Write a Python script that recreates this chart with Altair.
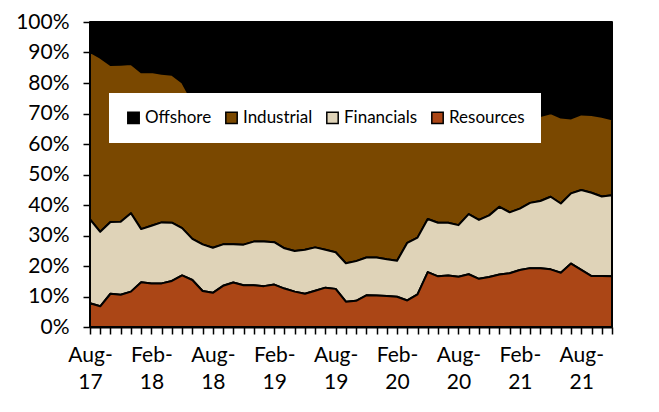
import json
import altair as alt
import pandas as pd

# Monthly categories, Aug-17 .. Nov-21
months = pd.date_range("2017-08-01", periods=52, freq="MS").strftime("%b-%y").tolist()

# Labelled months on the x axis
label_months = ["Aug-17", "Feb-18", "Aug-18", "Feb-19", "Aug-19",
                "Feb-20", "Aug-20", "Feb-21", "Aug-21"]

# Shares (%) per series
resources = [7.8, 6.8, 10.9, 10.6, 11.6, 14.7, 14.3, 14.3, 15.1, 16.9,
             15.4, 11.8, 11.2, 13.5, 14.6, 13.7, 13.7, 13.4, 13.9, 12.6,
             11.6, 10.9, 11.9, 12.9, 12.5, 8.3, 8.6, 10.4, 10.3, 10.2,
             9.9, 8.7, 10.7, 18.0, 16.6, 16.9, 16.5, 17.3, 15.8, 16.4,
             17.2, 17.6, 18.7, 19.3, 19.3, 18.9, 17.8, 20.8, 18.7, 16.7,
             16.7, 16.6]
financials = [27.5, 24.4, 23.5, 23.9, 25.7, 17.4, 18.9, 20.0, 19.1, 15.5,
              13.5, 15.3, 14.8, 13.6, 12.5, 13.3, 14.3, 14.6, 13.9, 13.2,
              13.3, 14.4, 14.2, 12.4, 12.0, 12.6, 13.0, 12.4, 12.5, 12.0,
              11.8, 18.9, 18.6, 17.4, 17.6, 17.3, 16.9, 19.7, 19.3, 20.2,
              22.2, 20.0, 20.1, 21.4, 22.0, 23.8, 22.7, 23.0, 26.2, 27.3,
              26.1, 26.6]
industrial = [54.9, 57.1, 51.5, 51.5, 48.9, 51.4, 50.4, 48.7, 48.5, 47.8,
              45.1, 45.4, 45.5, 43.9, 43.4, 43.0, 41.5, 41.0, 40.7, 42.2,
              42.6, 41.7, 40.4, 40.7, 41.0, 44.1, 42.9, 41.7, 41.2, 41.8,
              42.3, 36.9, 35.7, 30.1, 31.8, 32.3, 33.6, 30.0, 32.4, 30.9,
              28.6, 30.4, 29.7, 28.3, 27.9, 27.4, 28.2, 24.6, 24.8, 25.5,
              26.1, 24.9]
offshore = [9.8, 11.7, 14.1, 14.0, 13.8, 16.5, 16.4, 17.0, 17.3, 19.8,
            26.0, 27.5, 28.5, 29.0, 29.5, 30.0, 30.5, 31.0, 31.5, 32.0,
            32.5, 33.0, 33.5, 34.0, 34.5, 35.0, 35.5, 35.5, 36.0, 36.0,
            36.0, 35.5, 35.0, 34.5, 34.0, 33.5, 33.0, 33.0, 32.5, 32.5,
            32.0, 32.0, 31.5, 31.0, 30.8, 29.9, 31.3, 31.6, 30.3, 30.5,
            31.1, 31.9]

series_names = ["Offshore", "Industrial", "Financials", "Resources"]
series_colors = ["#000000", "#7A4800", "#DFD3B8", "#AB4616"]
stack_rank = {"Resources": 0, "Financials": 1, "Industrial": 2, "Offshore": 3}
series_values = {"Offshore": offshore, "Industrial": industrial,
                 "Financials": financials, "Resources": resources}

y_ticks = list(range(0, 101, 10))

rows = []
for name in series_names:
    for i, m in enumerate(months):
        rows.append({"idx": i, "month": m, "series": name,
                     "value": series_values[name][i], "ord": stack_rank[name]})
df = pd.DataFrame(rows)

x_labels = [[m[:4], m[4:]] if m in label_months else "" for m in months]
x_label_expr = f"{json.dumps(x_labels)}[datum.value]"

FONT = "Lato"

chart = alt.Chart(df).mark_area(
    stroke="black", strokeWidth=2, strokeJoin="round", opacity=1
).encode(
    x=alt.X("idx:Q",
            scale=alt.Scale(domain=[0, len(months) - 1], nice=False, zero=False),
            axis=alt.Axis(values=list(range(len(months))), labelExpr=x_label_expr,
                          title=None, grid=False, tickSize=7, tickColor="black",
                          tickWidth=1.5, domainColor="black", domainWidth=2,
                          labelFont=FONT, labelFontSize=21, labelColor="black",
                          labelPadding=10, labelLineHeight=27, labelFlush=False,
                          labelOverlap=False, labelAngle=0, labelAlign="center",
                          labelBaseline="top")),
    y=alt.Y("value:Q", stack="zero",
            scale=alt.Scale(domain=[0, 100], nice=False),
            axis=alt.Axis(values=y_ticks, labelExpr="datum.value + '%'",
                          title=None, grid=False, tickSize=7, tickColor="black",
                          tickWidth=1.5, domainColor="black", domainWidth=2,
                          labelFont=FONT, labelFontSize=21, labelColor="black",
                          labelPadding=14)),
    color=alt.Color("series:N",
                    scale=alt.Scale(domain=series_names, range=series_colors),
                    legend=alt.Legend(orient="none", legendX=19, legendY=71,
                                      direction="horizontal", title=None,
                                      fillColor="white", padding=16,
                                      labelFont=FONT, labelFontSize=17,
                                      labelColor="black", symbolType="square",
                                      symbolSize=130, symbolStrokeColor="black",
                                      symbolStrokeWidth=1.5, symbolOpacity=1,
                                      columnPadding=10, labelOffset=3)),
    order=alt.Order("ord:Q"),
).properties(
    width=522, height=305,
    autosize=alt.AutoSizeParams(type="none"),
    padding={"left": 82, "top": 14, "right": 35, "bottom": 70},
).configure_view(stroke=None)

chart.save("out.html", embed_options={"renderer": "svg", "actions": False})
